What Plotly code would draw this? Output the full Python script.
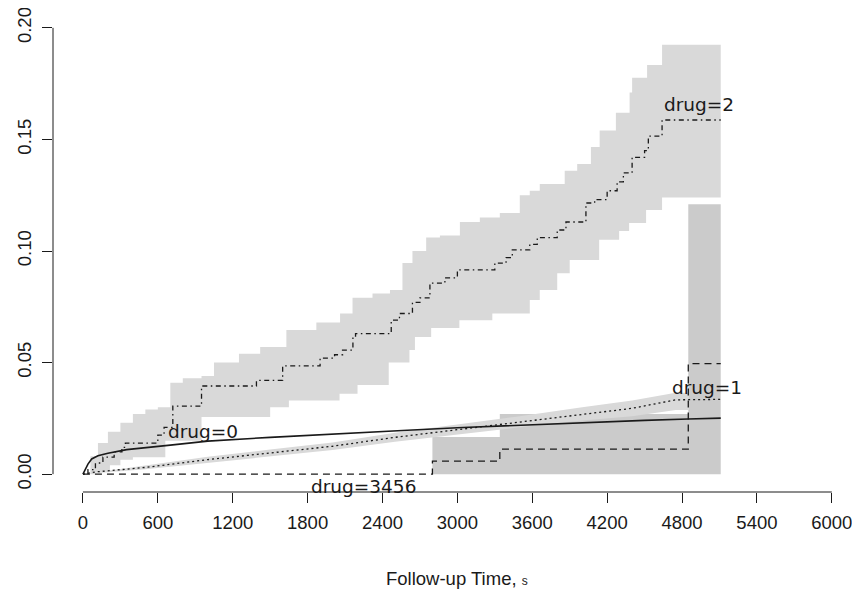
import plotly.graph_objects as go

# ---- data ----
drug0_t = [0, 40, 70, 120, 200, 350, 700, 1000, 1500, 2000, 2600, 3000, 3500, 4000, 4500, 4850, 5110]
drug0_y = [0, 0.0045, 0.0068, 0.0082, 0.0094, 0.011, 0.013, 0.0148, 0.0165, 0.0181, 0.0197, 0.0208,
           0.0220, 0.0231, 0.0241, 0.0247, 0.0251]

drug1_t = [0, 100, 500, 1000, 1500, 2000, 2500, 3000, 3500, 4000, 4400, 4750, 5110]
drug1_y = [0, 0.001, 0.003, 0.0065, 0.0095, 0.0125, 0.0165, 0.020, 0.0235, 0.027, 0.0295, 0.0333, 0.0335]

band1_t = [0, 500, 1000, 1500, 2000, 2500, 3000, 3500, 4000, 4400, 4750, 4850]
band1_lo = [0, 0.0022, 0.0052, 0.0080, 0.0108, 0.0145, 0.0178, 0.021, 0.024, 0.026, 0.0287, 0.0287]
band1_hi = [0, 0.0040, 0.0078, 0.0110, 0.0142, 0.0185, 0.0222, 0.026, 0.030, 0.0330, 0.0365, 0.0365]

drug2_t = [0, 40, 100, 160, 250, 312, 340, 600, 650, 720, 950, 1390, 1600, 1900, 2016, 2080, 2163,
           2184, 2470, 2536, 2640, 2700, 2780, 2900, 3000, 3300, 3390, 3440, 3580, 3640, 3800, 3870,
           4030, 4100, 4200, 4280, 4330, 4400, 4500, 4530, 4640, 5110]
drug2_y = [0, 0.002, 0.005, 0.0076, 0.010, 0.012, 0.0139, 0.0175, 0.021, 0.0305, 0.0395, 0.042,
           0.0485, 0.052, 0.0535, 0.0556, 0.0615, 0.063, 0.069, 0.072, 0.077, 0.079, 0.0856, 0.088,
           0.0915, 0.0946, 0.097, 0.1005, 0.103, 0.106, 0.1094, 0.113, 0.1215, 0.123, 0.127, 0.131,
           0.135, 0.142, 0.145, 0.1515, 0.1587, 0.1587]

band2_hi_t = [0, 60, 120, 200, 300, 400, 500, 600, 700, 800, 950, 1050, 1250, 1420, 1630, 1870, 2060,
              2160, 2320, 2460, 2560, 2640, 2750, 2860, 3020, 3180, 3340, 3500, 3580, 3660, 3860, 3960,
              4070, 4140, 4270, 4380, 4400, 4520, 4640, 5110]
band2_hi = [0, 0.008, 0.014, 0.019, 0.023, 0.027, 0.029, 0.030, 0.041, 0.043, 0.044, 0.050, 0.054,
            0.057, 0.0646, 0.068, 0.072, 0.079, 0.081, 0.0825, 0.0946, 0.100, 0.106, 0.107, 0.113,
            0.115, 0.117, 0.125, 0.127, 0.130, 0.136, 0.139, 0.1466, 0.154, 0.162, 0.171, 0.1776,
            0.1834, 0.1924, 0.1924]
band2_lo_t = [0, 100, 216, 300, 400, 660, 950, 1500, 1650, 2056, 2200, 2450, 2616, 2660, 2790, 3016,
              3280, 3580, 3660, 3800, 3900, 4136, 4296, 4376, 4512, 4640, 5110]
band2_lo = [0, 0.001, 0.004, 0.0065, 0.0076, 0.015, 0.0256, 0.030, 0.033, 0.036, 0.040, 0.050,
            0.0556, 0.0615, 0.0655, 0.069, 0.072, 0.078, 0.0825, 0.090, 0.096, 0.105, 0.109, 0.1125,
            0.1184, 0.124, 0.124]

drug3_t = [0, 2800, 3340, 4850, 5110]
drug3_y = [0, 0.0058, 0.0112, 0.0495, 0.0495]
band3_t = [2800, 3340, 4850, 5110]
band3_lo = [0, 0, 0, 0]
band3_hi = [0.0166, 0.027, 0.121, 0.121]

x_ticks = [0, 600, 1200, 1800, 2400, 3000, 3600, 4200, 4800, 5400, 6000]
y_ticks = [0.0, 0.05, 0.10, 0.15, 0.20]
y_ticktext = ["0.00", "0.05", "0.10", "0.15", "0.20"]

labels = [("drug=0", 960, 0.0193), ("drug=1", 5000, 0.039),
          ("drug=2", 4936, 0.1655), ("drug=3456", 2248, -0.0054)]


def step_path(t, v):
    xs, ys = [], []
    for i in range(len(t)):
        xs.append(t[i]); ys.append(v[i])
        if i + 1 < len(t):
            xs.append(t[i + 1]); ys.append(v[i])
    return xs, ys


def step_band(t_hi, hi, t_lo, lo):
    xh, yh = step_path(t_hi, hi)
    xl, yl = step_path(t_lo, lo)
    return xh + xl[::-1], yh + yl[::-1]


LIGHT = "#d9d9d9"
DARK = "#cbcbcb"
INK = "#1a1a1a"

fig = go.Figure()

bx, by = step_band(band2_hi_t, band2_hi, band2_lo_t, band2_lo)
fig.add_trace(go.Scatter(x=bx, y=by, fill="toself", fillcolor=LIGHT, line=dict(width=0),
                         mode="lines", hoverinfo="skip"))
bx, by = step_band(band3_t, band3_hi, band3_t, band3_lo)
fig.add_trace(go.Scatter(x=bx, y=by, fill="toself", fillcolor=DARK, line=dict(width=0),
                         mode="lines", hoverinfo="skip"))
fig.add_trace(go.Scatter(x=band1_t + band1_t[::-1], y=band1_hi + band1_lo[::-1], fill="toself",
                         fillcolor=LIGHT, line=dict(width=0), mode="lines", hoverinfo="skip"))

fig.add_trace(go.Scatter(x=drug0_t, y=drug0_y, mode="lines",
                         line=dict(color=INK, width=1.6)))
fig.add_trace(go.Scatter(x=drug1_t, y=drug1_y, mode="lines",
                         line=dict(color=INK, width=1.3, dash="2px,3px")))
fig.add_trace(go.Scatter(x=drug2_t, y=drug2_y, mode="lines", line_shape="hv",
                         line=dict(color=INK, width=1.3, dash="1.5px,3.5px,5px,3.5px")))
fig.add_trace(go.Scatter(x=drug3_t, y=drug3_y, mode="lines", line_shape="hv",
                         line=dict(color=INK, width=1.3, dash="7px,5px")))

for txt, x, y in labels:
    fig.add_annotation(x=x, y=y, xref="x", yref="y", text=txt, showarrow=False,
                       font=dict(family="DejaVu Sans", size=18.5, color=INK),
                       xanchor="center", yanchor="middle")

fig.add_annotation(x=3000, y=0, xref="x", yref="paper", yshift=-86,
                   text="Follow-up Time, <span style='font-size:12px'>s</span>",
                   showarrow=False, xanchor="center", yanchor="middle",
                   font=dict(family="Liberation Sans", size=18.5, color=INK))

# axis lines only spanning the tick range (R style)
fig.add_shape(type="line", xref="x", yref="paper", x0=0, x1=6000, y0=0, y1=0,
              line=dict(color=INK, width=1))
fig.add_shape(type="line", xref="paper", yref="y", x0=0, x1=0, y0=0, y1=0.2,
              line=dict(color=INK, width=1))

# the page body adds an 8px offset, so margins are trimmed by 8px on the left/top
fig.update_layout(
    width=860, height=600,
    margin=dict(l=45, r=0, t=2, b=116, autoexpand=False),
    paper_bgcolor="white", plot_bgcolor="white",
    showlegend=False,
    xaxis=dict(range=[-240, 6290], tickvals=x_ticks, ticks="outside", ticklen=10,
               tickcolor=INK, showgrid=False, zeroline=False, showline=False, automargin=False,
               tickfont=dict(family="Liberation Sans", size=18.5, color=INK),
               ticklabelstandoff=4, ticklabeloverflow="allow"),
    yaxis=dict(range=[-0.008, 0.208], tickvals=y_ticks, ticktext=y_ticktext, ticks="outside",
               ticklen=10, tickcolor=INK, showgrid=False, zeroline=False, showline=False,
               automargin=False, tickangle=-90,
               tickfont=dict(family="Liberation Sans", size=18.5, color=INK),
               ticklabelstandoff=4, ticklabeloverflow="allow"),
)

fig.write_html("out.html")
